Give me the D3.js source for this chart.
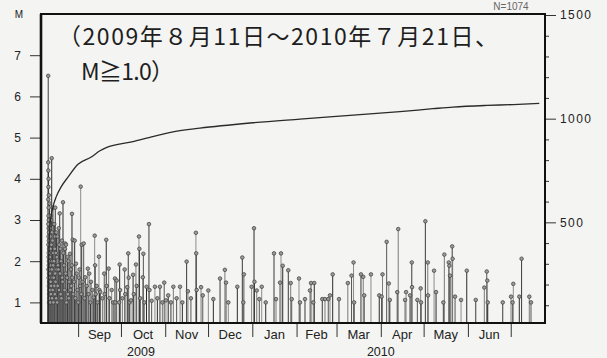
<!DOCTYPE html>
<html><head><meta charset="utf-8">
<script src="https://cdn.jsdelivr.net/npm/d3@7"></script>
<style>html,body{margin:0;padding:0;background:#f4f4f2;}svg{display:block;}</style>
</head><body>
<svg id="chart" width="607" height="358"></svg>
<script>
// ---------------- data ----------------
const startDate = [2009, 7, 11];          // 2009-08-11 (month 0-based)
const axisStart = [2009, 7, 6];
const axisEnd = [2010, 6, 25];
// days after 2009-08-11 00:00
const eventDay = [
0.05,0.08,0.1,0.12,0.15,0.18,0.2,0.22,0.25,0.28,0.3,0.33,0.35,0.38,0.4,0.43,0.45,0.48,0.5,0.53,0.55,0.58,0.6,0.63,0.65,0.68,0.7,0.73,0.75,0.78,0.8,0.85,0.9,0.95,
1.05,1.15,1.2,1.3,1.4,1.5,1.6,1.7,1.8,1.9,1.95,1.98,
2.1,2.2,2.3,2.5,2.6,2.7,2.8,2.9,2.95,
3.1,3.2,3.4,3.5,3.6,3.7,3.8,3.9,
4.1,4.3,4.4,4.6,4.7,4.8,4.9,
5.0,5.2,5.4,5.6,5.8,5.9,
6.1,6.3,6.5,6.7,6.9,
7.2,7.4,7.6,7.8,
8.1,8.3,8.6,8.8,
9.1,9.3,9.6,9.8,
10.1,10.4,10.7,
11.2,11.5,11.8,
12.0,12.3,12.5,12.8,
13.2,13.5,13.8,
14.2,14.5,14.8,
15.3,15.6,15.9,
16.2,16.5,16.7,16.9,
17.2,17.6,18.2,18.6,19.1,19.5,20.1,20.6,21.1,21.5,22.0,22.4,22.8,23.2,23.5,24.1,24.9,25.5,26.0,27.0,27.8,28.3,28.8,29.6,30.0,31.0,31.8,32.6,32.9,33.3,34.0,34.6,35.6,35.9,36.5,38.0,39.3,39.6,40.7,41.0,42.4,43.0,44.5,45.5,46.8,47.0,48.0,49.7,50.1,50.4,52.0,53.6,54.0,55.4,56.1,56.4,57.0,58.0,59.5,60.0,61.5,62.0,63.6,63.9,64.5,66.3,66.7,67.5,68.9,70.6,71.0,72.5,74.8,76.5,78.3,80.0,81.3,82.5,84.1,86.0,87.7,90.0,92.4,94.0,97.0,97.9,100.0,103.5,103.7,104.0,107.1,108.3,112.2,115.7,120.4,123.8,124.6,126.2,132.5,136.0,136.7,137.1,142.5,144.2,144.5,146.1,147.9,149.6,152.4,158.2,159.6,162.4,163.1,164.3,168.2,169.9,170.6,175.7,176.4,179.9,183.4,184.1,185.7,186.4,192.0,193.9,196.2,197.4,199.3,203.7,209.9,212.5,213.9,214.3,219.1,220.7,221.4,226.1,231.9,233.6,234.2,237.1,238.6,239.3,244.5,245.2,250.0,250.7,253.5,254.7,254.9,258.6,260.9,261.2,264.2,265.9,266.1,270.3,271.7,276.8,277.5,280.6,281.0,281.5,283.0,283.3,285.0,289.2,293.2,299.5,305.5,307.2,307.6,307.9,318.4,324.2,325.3,325.8,330.0,331.6,337.0,338.2
];
const eventMag = [
6.5,4.4,3.5,2.9,4.2,2.4,3.8,1.8,3.1,2.6,4.0,2.1,3.3,1.6,2.8,3.0,2.2,1.9,3.6,1.4,2.5,2.0,1.7,2.7,1.2,2.3,1.5,1.0,2.0,1.3,1.8,1.1,1.5,1.0,
3.4,2.1,1.7,2.8,1.3,2.6,1.0,2.3,1.5,3.1,1.2,1.9,
3.0,1.4,2.4,4.5,1.8,2.7,1.1,2.0,1.6,
2.5,1.3,3.3,1.9,2.2,1.0,2.9,1.6,
2.0,2.9,1.4,2.3,1.2,2.6,1.7,
3.3,1.5,2.2,1.1,2.7,1.8,
2.1,1.0,2.6,1.4,1.9,
1.8,2.8,1.3,2.4,
3.16,1.7,2.3,1.2,
2.0,1.1,2.5,1.6,
1.5,3.43,2.2,
1.9,1.3,2.3,
2.43,1.7,2.4,1.0,
1.6,2.1,1.2,
2.0,1.1,1.5,
2.18,1.3,1.8,
1.4,1.9,3.15,1.6,
2.52,1.2,1.5,2.5,1.1,1.94,1.7,1.3,1.0,1.6,1.8,1.4,3.81,1.2,2.4,1.5,2.43,1.1,1.61,1.4,1.82,1.2,1.7,1.0,1.5,1.3,1.12,2.62,1.9,1.2,1.4,1.0,2.11,1.3,1.25,1.1,1.7,1.2,2.52,1.4,1.82,1.1,1.3,1.0,1.58,1.0,1.53,1.0,1.92,1.3,1.1,1.8,1.2,1.37,2.19,1.6,1.0,1.05,1.67,1.2,1.92,1.4,2.6,2.3,1.1,1.61,2.18,1.0,1.38,2.9,1.3,1.04,1.38,1.1,1.38,1.0,1.48,1.05,1.17,1.0,1.38,1.1,1.38,1.0,1.99,1.27,1.1,2.69,2.19,1.3,1.37,1.17,1.29,1.08,1.58,1.79,1.48,1.0,1.38,2.09,1.0,1.68,1.38,2.8,1.5,1.29,1.08,1.38,1.0,2.19,1.08,1.48,2.19,1.89,1.78,1.47,1.08,1.58,1.0,1.08,1.29,1.47,1.0,1.47,1.08,1.08,1.08,1.17,1.68,1.08,1.47,1.65,1.97,1.0,1.68,1.62,1.17,1.68,1.17,1.14,1.68,2.47,1.46,1.06,1.25,2.78,1.06,1.25,1.17,1.97,1.37,1.06,1.34,1.0,2.97,1.97,1.17,1.77,1.25,1.0,2.16,1.97,1.89,1.65,2.36,2.06,1.14,1.06,1.77,1.06,1.36,1.75,1.53,1.0,1.0,1.14,1.0,1.45,1.14,2.06,1.14,1.0
];
// cumulative number of events (right axis)
const cumDay = [0,0.2,0.6,1.1,2,3.4,5.7,9.2,13.9,20.9,30.2,36.3,40.7,59.5,71.3,87.5,106.3,141.4,176.4,211.4,246.4,269.5,283.5,307.3,325.6,344];
const cumCount = [0,220,380,470,525,575,624,672,718,780,815,845,860,889,910,936,954,979,998,1016,1034,1048,1056,1064,1068,1074];
const magTicks = [1,2,3,4,5,6,7];
const countMajorTicks = [500,1000,1500];
const countMinorTicks = [100,200,300,400,600,700,800,900,1100,1200,1300,1400];
const monthLabels = ["Sep","Oct","Nov","Dec","Jan","Feb","Mar","Apr","May","Jun"];
const yearLabels = ["2009","2010"];
const yearLabelDates = [[2009,9,15],[2010,3,1]];
const title1 = "（2009年８月11日～2010年７月21日、";
const title2 = "M≧1.0）";
const totalLabel = "N=1074";
const magLabel = "M";

// ---------------- drawing ----------------
const svg = d3.select("#chart");
const L = 41, R = 545, T = 14, B = 323;
const mk = a => new Date(a[0], a[1], a[2]);
const base = mk(startDate);
const dayToDate = d => new Date(base.getTime() + d * 864e5);

const x = d3.scaleTime().domain([mk(axisStart), mk(axisEnd)]).range([L, R]);
const yM = d3.scaleLinear().domain([0.5, 8]).range([B, T]);
const yN = d3.scaleLinear().domain([0, 1500]).range([326, 15]);

svg.append("rect").attr("width", 607).attr("height", 358).attr("fill", "#f4f4f2");

svg.append("defs").append("clipPath").attr("id", "clip")
  .append("rect").attr("x", L).attr("y", T).attr("width", R - L).attr("height", B - T);

const events = eventDay.map((d, i) => ({date: dayToDate(d), m: eventMag[i]}));
const stemColors = ["#3a3a3a", "#7a7a7a", "#555", "#8c8c8c", "#2a2a2a"];

const plot = svg.append("g").attr("clip-path", "url(#clip)");
plot.selectAll("line.stem").data(events).enter().append("line")
  .attr("class", "stem")
  .attr("x1", d => x(d.date)).attr("x2", d => x(d.date))
  .attr("y1", yM(0.5)).attr("y2", d => yM(d.m))
  .attr("stroke", (d, i) => stemColors[i % stemColors.length])
  .attr("stroke-width", 1);
plot.selectAll("circle.head").data(events).enter().append("circle")
  .attr("class", "head")
  .attr("cx", d => x(d.date)).attr("cy", d => yM(d.m)).attr("r", 1.8)
  .attr("fill", "#9a9a9a").attr("stroke", "#3a3a3a").attr("stroke-width", 0.7);

// cumulative curve
const cum = cumDay.map((d, i) => ({date: dayToDate(d), n: cumCount[i]}));
plot.append("path").datum(cum)
  .attr("d", d3.line().curve(d3.curveMonotoneX).x(d => x(d.date)).y(d => yN(d.n)))
  .attr("fill", "none").attr("stroke", "#2a2a2a").attr("stroke-width", 1.3);

// left axis
const la = svg.append("g").attr("transform", `translate(${L},0)`)
  .call(d3.axisLeft(yM).tickValues(magTicks).tickSize(11).tickPadding(9).tickFormat(d3.format("d")));
la.select(".domain").remove();
la.selectAll("line").attr("stroke", "#333");
la.selectAll("text").attr("font-family", "Liberation Sans, Arial, sans-serif").attr("font-size", 12).attr("fill", "#222");

// right axis
const ra = svg.append("g").attr("transform", `translate(${R},0)`)
  .call(d3.axisRight(yN).tickValues(countMajorTicks).tickSize(11).tickPadding(4).tickFormat(d3.format("d")));
ra.select(".domain").remove();
ra.selectAll("line").attr("stroke", "#333");
ra.selectAll("text").attr("font-family", "Liberation Sans, Arial, sans-serif").attr("font-size", 12)
  .attr("letter-spacing", 1.4).attr("fill", "#222");
const rm = svg.append("g").attr("transform", `translate(${R},0)`)
  .call(d3.axisRight(yN).tickValues(countMinorTicks).tickSize(4).tickFormat(""));
rm.select(".domain").remove();
rm.selectAll("line").attr("stroke", "#333");

// bottom axis (month ticks)
const months = d3.timeMonth.range(d3.timeMonth.ceil(mk(axisStart)), mk(axisEnd));
const ba = svg.append("g").attr("transform", `translate(0,${B})`)
  .call(d3.axisBottom(x).tickValues(months).tickSize(14).tickFormat(""));
ba.select(".domain").remove();
ba.selectAll("line").attr("stroke", "#333");

svg.append("g").selectAll("text").data(monthLabels).enter().append("text")
  .attr("x", (d, i) => (x(months[i]) + x(months[i + 1])) / 2)
  .attr("y", 339).attr("text-anchor", "middle")
  .attr("font-family", "Liberation Sans, Arial, sans-serif").attr("font-size", 13).attr("fill", "#222")
  .text(d => d);
svg.append("g").selectAll("text").data(yearLabels).enter().append("text")
  .attr("x", (d, i) => x(mk(yearLabelDates[i])))
  .attr("y", 356).attr("text-anchor", "middle")
  .attr("font-family", "Liberation Sans, Arial, sans-serif").attr("font-size", 12.5).attr("fill", "#222")
  .text(d => d);

// frame
svg.append("rect").attr("x", L).attr("y", T).attr("width", R - L).attr("height", B - T)
  .attr("fill", "none").attr("stroke", "#111").attr("stroke-width", 2);
svg.append("line").attr("x1", L).attr("x2", L).attr("y1", T).attr("y2", B)
  .attr("stroke", "#111").attr("stroke-width", 2.6);

// labels
svg.append("text").attr("x", 19).attr("y", 18).attr("text-anchor", "middle")
  .attr("font-family", "Liberation Sans, Arial, sans-serif").attr("font-size", 10).attr("fill", "#222").text(magLabel);
svg.append("text").attr("x", 511).attr("y", 10).attr("text-anchor", "middle")
  .attr("font-family", "Liberation Sans, Arial, sans-serif").attr("font-size", 10).attr("fill", "#666").text(totalLabel);

svg.append("text").attr("x", 58).attr("y", 45)
  .attr("font-family", "Noto Sans CJK JP, sans-serif").attr("font-size", 23).attr("fill", "#1e1e1e")
  .attr("textLength", 440).attr("lengthAdjust", "spacing").text(title1);
svg.append("text").attr("x", 81).attr("y", 80)
  .attr("font-family", "Noto Sans CJK JP, sans-serif").attr("font-size", 23).attr("fill", "#1e1e1e")
  .attr("textLength", 93).attr("lengthAdjust", "spacing").text(title2);
</script>
</body></html>
